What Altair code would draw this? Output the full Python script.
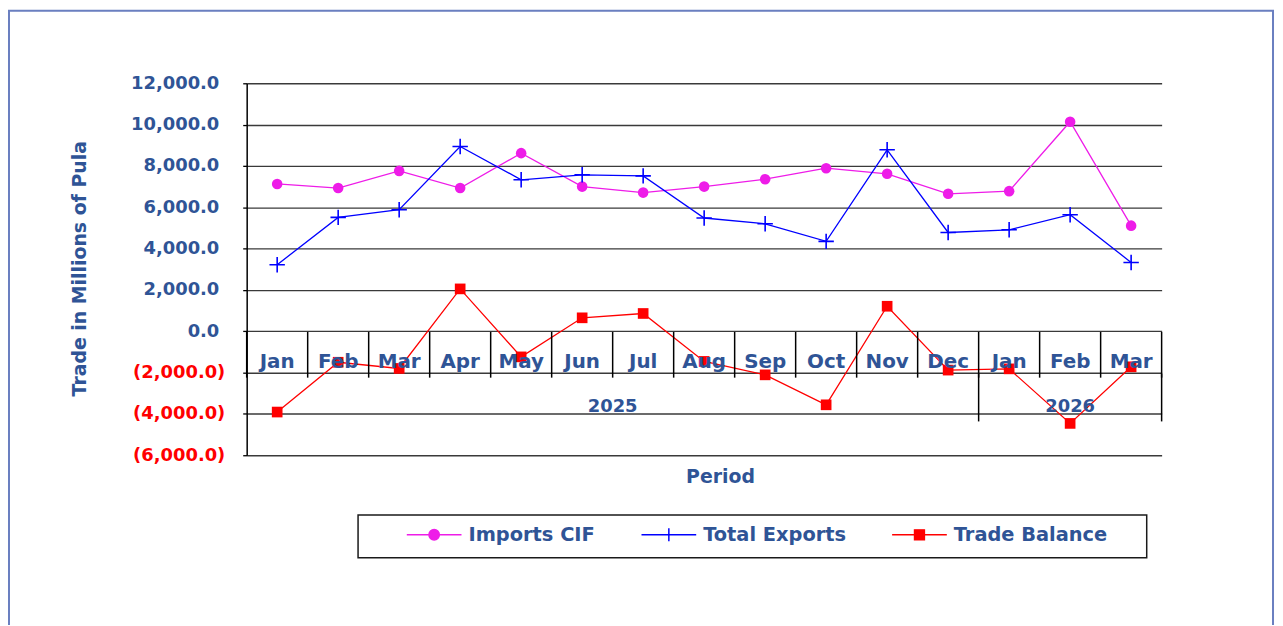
import altair as alt
import pandas as pd

FONT = "DejaVu Sans"
BLUE_TEXT = "#2F5496"
MAG = "#EE1CE8"
BLUE = "#0000FF"
RED = "#FF0000"

months = ["Jan", "Feb", "Mar", "Apr", "May", "Jun", "Jul", "Aug", "Sep", "Oct", "Nov", "Dec", "Jan", "Feb", "Mar"]
month_years = ["2025"] * 12 + ["2026"] * 3
year_labels = ["2025", "2026"]
series_names = ["Imports CIF", "Total Exports", "Trade Balance"]
series_colors = [MAG, BLUE, RED]

imports_cif = [7130, 6930, 7760, 6930, 8620, 7000, 6710, 7000, 7360, 7890, 7620, 6650, 6780, 10140, 5110]
total_exports = [3220, 5510, 5880, 8940, 7330, 7570, 7520, 5480, 5200, 4350, 8780, 4780, 4910, 5640, 3330]
trade_balance = [-3910, -1500, -1800, 2050, -1240, 650, 860, -1460, -2110, -3560, 1210, -1880, -1820, -4460, -1720]

y_ticks = list(range(-6000, 12001, 2000))

keys = [f"{y}-{m}" for y, m in zip(month_years, months)]

rows = []
for name, vals in zip(series_names, [imports_cif, total_exports, trade_balance]):
    for i, (k, v) in enumerate(zip(keys, vals)):
        rows.append({"series": name, "key": k, "idx": i, "value": v})
df = pd.DataFrame(rows)
month_df = pd.DataFrame({"key": keys, "month": months})

xscale = alt.Scale(type="band", domain=keys, paddingInner=0, paddingOuter=0)
xaxis = alt.Axis(
    title="Period", titleX=476, titleY=21, titleBaseline="middle",
    titleFont=FONT, titleFontSize=19, titleFontWeight="bold", titleColor=BLUE_TEXT,
    labels=False, ticks=False, domain=False, grid=False,
)


def xk(band=None):
    if band is None:
        return alt.X("key:N", scale=xscale, axis=xaxis)
    return alt.X("key:N", scale=xscale, axis=xaxis, bandPosition=band)


y_enc = alt.Y(
    "value:Q",
    scale=alt.Scale(domain=[-6000, 12000], nice=False, zero=False),
    axis=alt.Axis(
        values=y_ticks,
        title="Trade in Millions of Pula", titleX=-168, titleY=186, titleAngle=270,
        titleBaseline="middle", titleAlign="center",
        titleFont=FONT, titleFontSize=19, titleFontWeight="bold", titleColor=BLUE_TEXT,
        grid=True, gridColor="#3a3a3a", gridWidth=1.4,
        domainColor="black", domainWidth=1.5,
        tickSize=4, tickColor="black", tickWidth=1.3,
        labelPadding={"condition": {"test": "datum.value < 0", "value": 18}, "value": 24},
        labelExpr="datum.value < 0 ? '(' + format(-datum.value, ',.1f') + ')' : format(datum.value, ',.1f')",
        labelColor={"condition": {"test": "datum.value < 0", "value": RED}, "value": BLUE_TEXT},
        labelFont=FONT, labelFontSize=18, labelFontWeight="bold",
    ),
)

line_layers = []
for name, col in zip(series_names, series_colors):
    line_layers.append(
        alt.Chart(df).transform_filter(alt.datum.series == name).mark_line(strokeWidth=1.3, color=col).encode(
            x=xk(), y=y_enc, order=alt.Order("idx:Q"),
        )
    )

pts_imp = alt.Chart(df).transform_filter(alt.datum.series == series_names[0]).mark_point(
    shape="circle", filled=True, size=113, color=MAG, opacity=1
).encode(x=xk(), y=y_enc)
pts_exp = alt.Chart(df).transform_filter(alt.datum.series == series_names[1]).mark_point(
    shape="M-1,0H1M0,-1V1", filled=False, size=240, color=BLUE, strokeWidth=1.6, opacity=1
).encode(x=xk(), y=y_enc)
pts_bal = alt.Chart(df).transform_filter(alt.datum.series == series_names[2]).mark_point(
    shape="square", filled=True, size=115, color=RED, opacity=1
).encode(x=xk(), y=y_enc)

# month labels row and separators
month_text = alt.Chart(month_df).mark_text(
    font=FONT, fontSize=20, fontWeight="bold", color=BLUE_TEXT, baseline="middle"
).encode(x=xk(), y=alt.value(280), text="month:N")
month_sep = alt.Chart(month_df).mark_rule(color="black", strokeWidth=1.5).encode(
    x=xk(0), y=alt.value(250), y2=alt.value(296)
)
month_sep_end = alt.Chart(month_df.tail(1)).mark_rule(color="black", strokeWidth=1.5).encode(
    x=xk(1), y=alt.value(250), y2=alt.value(296)
)

# year row
year_layers = []
for y in year_labels:
    ks = [k for k in keys if k.startswith(y)]
    n = len(ks)
    band = 0 if n % 2 == 0 else 0.5
    yl = pd.DataFrame({"year": [y], "key": [ks[n // 2]]})
    ye = pd.DataFrame({"year": [y], "key": [ks[-1]]})
    year_layers.append(
        alt.Chart(yl).mark_text(font=FONT, fontSize=18, fontWeight="bold", color=BLUE_TEXT, baseline="middle").encode(
            x=xk(band), y=alt.value(326), text="year:N",
        )
    )
    year_layers.append(
        alt.Chart(ye).mark_rule(color="black", strokeWidth=1.5).encode(
            x=xk(1), y=alt.value(292), y2=alt.value(340),
        )
    )

one = pd.DataFrame({"f": [0]})
frame = alt.Chart(one).mark_rect(fill="transparent", stroke="#6A7FC0", strokeWidth=2).encode(
    x=alt.value(-239), x2=alt.value(1032), y=alt.value(-73), y2=alt.value(560)
)
legend_box = alt.Chart(one).mark_rect(fill="transparent", stroke="#1a1a1a", strokeWidth=1.5).encode(
    x=alt.value(112), x2=alt.value(905), y=alt.value(434), y2=alt.value(477)
)

legend_paths = [
    "M-1,0H1M-0.19,0A0.19,0.19 0 1,0 0.19,0A0.19,0.19 0 1,0 -0.19,0Z",
    "M-1,0H1M0,-0.24V0.24",
    "M-1,0H1M-0.18,-0.18H0.18V0.18H-0.18Z",
]
leg = alt.Legend(
    orient="none", legendX=160, legendY=425, direction="horizontal", title=None,
    labelFont=FONT, labelFontSize=19.5, labelFontWeight="bold", labelColor=BLUE_TEXT,
    labelOffset=6, labelLimit=400, columnPadding=43, padding=0,
    symbolSize=3025, symbolStrokeWidth=1.5,
)
legend_layer = alt.Chart(df).transform_filter("false").mark_point(size=3025, strokeWidth=1.5, opacity=1).encode(
    shape=alt.Shape("series:N", scale=alt.Scale(domain=series_names, range=legend_paths), legend=leg),
    stroke=alt.Stroke("series:N", scale=alt.Scale(domain=series_names, range=series_colors), legend=leg),
    fill=alt.Fill("series:N", scale=alt.Scale(domain=series_names, range=[MAG, "transparent", RED]), legend=leg),
)

chart = alt.layer(
    frame, *line_layers, pts_imp, pts_exp, pts_bal, month_text, month_sep, month_sep_end,
    *year_layers, legend_box, legend_layer
).properties(
    width=920, height=374,
    padding={"left": 240, "top": 74, "right": 114, "bottom": 169},
    autosize=alt.AutoSizeParams(type="none"),
    background="white",
).configure_view(stroke="transparent")

chart.save("out.html", embed_options={"renderer": "svg", "actions": False})
